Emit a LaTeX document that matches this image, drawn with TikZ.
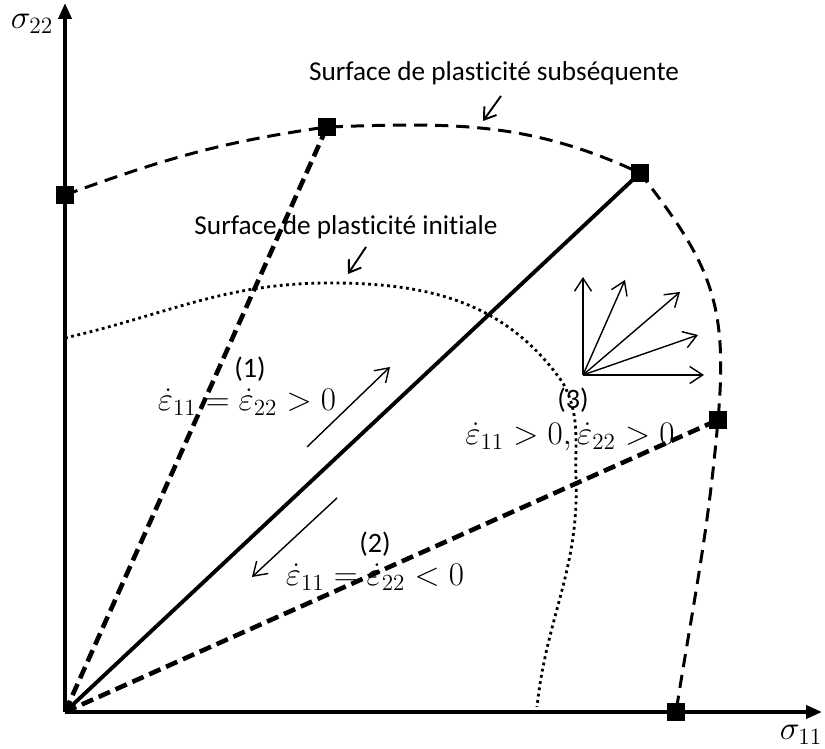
\RequirePackage{fix-cm}
\documentclass[tikz,border=0pt]{standalone}
\usepackage{fontspec}
\setmainfont{Carlito}[Ligatures=NoCommon]
\usetikzlibrary{arrows.meta}

\tikzset{
  axis/.style={line width=2.2pt,-{Triangle[length=3.2mm,width=2.6mm]}},
  yieldpt/.style={fill=black,minimum size=0.36cm,inner sep=0pt},
  subseq/.style={line width=1.7pt,dash pattern=on 7.5pt off 4.5pt},
  initial/.style={line width=1.6pt,dash pattern=on 1.6pt off 2pt},
  radial/.style={line width=2.6pt,dash pattern=on 7pt off 3.5pt},
  thinarrow/.style={line width=0.8pt,-{Straight Barb[length=2.6mm,width=3.4mm]}},
  pointer/.style={line width=1.1pt,-{Straight Barb[length=2.2mm,width=3mm]}},
  lbl/.style={font=\fontsize{15.5}{18}\selectfont},
  num/.style={font=\fontsize{16}{18}\selectfont},
  rate/.style={font=\fontsize{18.8}{21}\selectfont},
}

\begin{document}
\begin{tikzpicture}[x=0.02cm,y=0.02cm]
\useasboundingbox (0,0) rectangle (825,749);

% axes
\coordinate (O) at (65,37);
\coordinate (xtip) at (822,37);
\coordinate (ytip) at (65,746);
\draw[axis] (O) -- (xtip);
\draw[axis] (O) -- (ytip);
\node (s22) at (32,725) {\fontsize{19}{22}\selectfont$\sigma_{22}$};
\node (s11) at (801,14) {\fontsize{19}{22}\selectfont$\sigma_{11}$};

% points on the subsequent surface
\node[yieldpt] (p1) at (65,554) {};
\node[yieldpt] (p2) at (327,622) {};
\node[yieldpt] (p3) at (640,576) {};
\node[yieldpt] (p4) at (718,329) {};
\node[yieldpt] (p5) at (676,37) {};

% radial loading paths
\draw[radial] (O) -- (p2.center);
\draw[line width=2.2pt] (O) -- (p3.center);
\draw[radial] (O) -- (p4.center);

% subsequent yield surface
\draw[subseq] (p1.center) to[out=20,in=188] (p2.center)
  to[out=2,in=155] (p3.center)
  to[out=-52,in=85,looseness=1.15] (p4.center)
  to[out=-95,in=81] (p5.center);

% initial yield surface
\coordinate (i0) at (65,411);
\coordinate (i1) at (330,466);
\coordinate (i2) at (563,366);
\coordinate (i3) at (576,270);
\coordinate (i4) at (537,42);
\draw[initial] (i0) to[out=13,in=180] (i1) to[out=0,in=125] (i2)
  to[out=-62,in=92] (i3) to[out=-88,in=84] (i4);

% redraw the markers on top
\foreach \p in {p1,p2,p3,p4,p5}
  \fill (\p.south west) rectangle (\p.north east);

% labels of the surfaces
\node[lbl] (lsub) at (494,676) {Surface de plasticité subséquente};
\node[lbl] (lini) at (346,522) {Surface de plasticité initiale};
\coordinate (asub) at (501,653);
\coordinate (bsub) at (483,628);
\coordinate (aini) at (366,502);
\coordinate (bini) at (348,475);
\draw[pointer] (asub) -- (bsub);
\draw[pointer] (aini) -- (bini);

% loading directions
\coordinate (u0) at (307,302);
\coordinate (u1) at (390,382);
\coordinate (d0) at (337,251);
\coordinate (d1) at (252,172);
\draw[thinarrow] (u0) -- (u1);
\draw[thinarrow] (d0) -- (d1);

\node[num] (n1) at (250,380) {(1)};
\node[rate] (r1) at (247,347) {$\dot{\varepsilon}_{11}=\dot{\varepsilon}_{22}>0$};
\node[num] (n2) at (375,205) {(2)};
\node[rate] (r2) at (375,172) {$\dot{\varepsilon}_{11}=\dot{\varepsilon}_{22}<0$};
\node[num] (n3) at (573,349) {(3)};
\node[rate] (r3) at (570,312) {$\dot{\varepsilon}_{11}>0,\dot{\varepsilon}_{22}>0$};

% fan of plastic flow directions
\coordinate (fan) at (583,374);
\coordinate (f1) at (583,472);
\coordinate (f2) at (625,469);
\coordinate (f3) at (680,457);
\coordinate (f4) at (698,414);
\coordinate (f5) at (704,374);
\foreach \f in {f1,f2,f3,f4,f5}
  \draw[thinarrow] (fan) -- (\f);
\end{tikzpicture}
\end{document}
